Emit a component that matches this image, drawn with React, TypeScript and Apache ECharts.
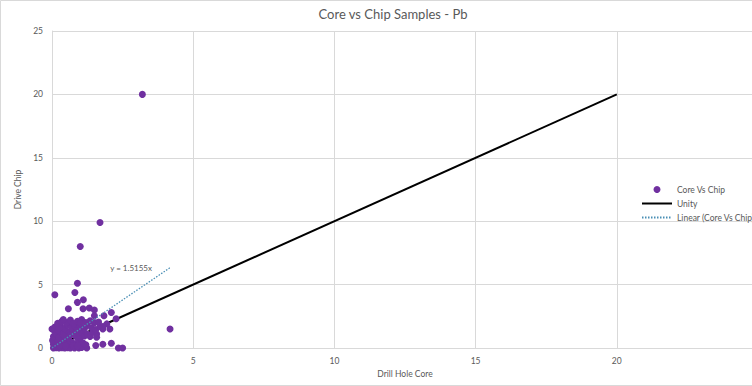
import React, { useEffect, useRef } from "react";
import * as echarts from "echarts";

const chartTitle = "Core vs Chip Samples - Pb";
const xAxisName = "Drill Hole Core";
const yAxisName = "Drive Chip";
const seriesNames = ["Core Vs Chip", "Unity", "Linear (Core Vs Chip)"];
const trendLabel = "y = 1.5155x";
const trendSlope = 1.5155;

// [Drill Hole Core, Drive Chip]
const coreVsChip: [number, number][] = [
  [0.05, 0], [0.15, 0.02], [0.25, 0], [0.35, 0.03], [0.45, 0], [0.55, 0.02], [0.65, 0], [0.8, 0.01],
  [0.95, 0], [1.05, 0.05], [1.23, 0], [1.55, 0.2], [1.8, 0.3], [2.1, 0.37], [2.35, 0], [2.5, 0],
  [0.05, 0.3], [0.12, 0.45], [0.2, 0.25], [0.3, 0.5], [0.4, 0.35], [0.5, 0.55], [0.6, 0.3], [0.7, 0.45],
  [0.85, 0.35], [0.95, 0.6], [1.1, 0.4], [1.2, 0.25], [0.02, 0.6], [0.18, 0.7], [0.28, 0.2], [0.38, 0.65],
  [0.48, 0.15], [0.58, 0.75], [0.75, 0.2], [0.9, 0.15], [1.0, 0.8],
  [0.05, 0.9], [0.15, 1.1], [0.25, 0.85], [0.35, 1.2], [0.45, 0.95], [0.55, 1.3], [0.65, 1.0], [0.75, 1.2],
  [0.85, 0.9], [0.95, 1.15], [1.05, 1.25], [1.15, 0.95], [1.25, 1.1], [1.35, 0.9], [1.45, 1.25],
  [1.58, 1.1], [1.58, 0.85], [0.1, 1.3], [0.4, 1.0],
  [0.0, 1.5], [0.1, 1.65], [0.2, 1.45], [0.3, 1.7], [0.45, 1.55], [0.55, 1.8], [0.7, 1.6], [0.8, 1.75],
  [0.9, 1.45], [1.0, 1.7], [1.15, 1.55], [1.25, 1.8], [1.4, 1.6], [1.55, 1.45], [1.7, 1.7], [1.8, 1.5],
  [2.05, 1.5], [1.94, 1.9], [1.8, 1.7], [0.25, 1.6],
  [0.2, 1.95], [0.35, 2.1], [0.5, 2.0], [0.65, 2.2], [0.75, 1.95], [0.9, 2.1], [1.05, 2.25], [1.2, 2.0],
  [1.35, 2.15], [1.5, 2.0], [0.4, 2.25], [1.0, 1.95], [2.27, 2.3], [1.65, 2.05],
  [1.5, 2.55], [1.84, 2.55], [2.1, 2.8], [1.32, 3.15], [1.5, 3.0], [1.1, 3.1], [0.58, 3.1], [0.9, 3.6],
  [1.11, 3.8], [0.81, 4.37], [0.1, 4.2], [0.9, 5.1], [1.0, 8.0], [1.7, 9.9], [3.2, 20], [4.18, 1.5],
];

const unityLine: [number, number][] = [[0, 0], [20, 20]];
const trendXRange = [0, 4.18];
const trendLabelAt: [number, number] = [2.8, 6.3];

const xTicks = { min: 0, max: 25, interval: 5 };
const yTicks = { min: 0, max: 25, interval: 5 };

export default function App() {
  const ref = useRef<HTMLDivElement>(null);
  useEffect(() => {
    document.body.style.margin = "0";
    if (!ref.current) return;
    const chart = echarts.init(ref.current, null, { renderer: "svg" });
    const trendLine = trendXRange.map((x) => [x, x * trendSlope]);
    const gray = "#595959";
    const gridColor = "#d9d9d9";
    chart.setOption({
      animation: false,
      backgroundColor: "#ffffff",
      textStyle: { fontFamily: "Lato, 'Open Sans', sans-serif" },
      title: {
        text: chartTitle,
        left: 388,
        textAlign: "center",
        top: 2,
        textStyle: { fontSize: 13, fontWeight: "normal", color: gray },
      },
      grid: { left: 52, top: 31, right: 18, bottom: 38, containLabel: false },
      xAxis: {
        type: "value",
        ...xTicks,
        name: xAxisName,
        nameLocation: "middle",
        nameGap: 18,
        nameTextStyle: { fontSize: 8.5, color: gray },
        axisLine: { show: true, lineStyle: { color: gridColor } },
        axisTick: { show: false },
        axisLabel: { fontSize: 8.5, color: gray, margin: 8, showMaxLabel: false },
        splitLine: { show: true, lineStyle: { color: gridColor, width: 1 } },
      },
      yAxis: {
        type: "value",
        ...yTicks,
        name: yAxisName,
        nameLocation: "middle",
        nameGap: 21,
        nameTextStyle: { fontSize: 8.5, color: gray },
        axisLine: { show: true, lineStyle: { color: gridColor } },
        axisTick: { show: false },
        axisLabel: { fontSize: 8.5, color: gray, margin: 9 },
        splitLine: { show: true, lineStyle: { color: gridColor, width: 1 } },
      },
      legend: {
        orient: "vertical",
        left: 636,
        top: 180,
        itemWidth: 30,
        itemHeight: 7,
        itemGap: 5,
        textStyle: { fontSize: 8.5, color: gray },
        data: [
          { name: seriesNames[0], icon: "circle" },
          { name: seriesNames[1], itemStyle: { opacity: 0 } },
          { name: seriesNames[2], itemStyle: { opacity: 0 } },
        ],
      },
      series: [
        {
          name: seriesNames[0],
          type: "scatter",
          data: coreVsChip,
          symbol: "circle",
          symbolSize: 7,
          itemStyle: { color: "#7030A0", opacity: 1 },
          z: 3,
        },
        {
          name: seriesNames[1],
          type: "line",
          data: unityLine,
          showSymbol: false,
          symbol: "none",
          lineStyle: { color: "#000000", width: 2 },
          itemStyle: { color: "#000000" },
          z: 2,
        },
        {
          name: seriesNames[2],
          type: "line",
          data: trendLine,
          showSymbol: false,
          symbol: "none",
          lineStyle: { color: "#4A8FB5", width: 1.3, type: [1.5, 1.5] },
          itemStyle: { color: "#4A8FB5" },
          z: 4,
          markPoint: {
            symbol: "circle",
            symbolSize: 0,
            silent: true,
            data: [{ coord: trendLabelAt, value: trendLabel }],
            label: {
              show: true,
              formatter: trendLabel,
              fontSize: 8,
              color: gray,
              position: "inside",
            },
          },
        },
      ],
      graphic: [
        {
          type: "rect",
          shape: { x: 0.5, y: 0.5, width: 800, height: 385 },
          style: { fill: "none", stroke: gridColor, lineWidth: 1 },
          silent: true,
        },
      ],
    });
    return () => chart.dispose();
  }, []);
  return (
    <div style={{ width: 752, height: 386, overflow: "hidden", position: "relative" }}>
      <div ref={ref} style={{ width: 776, height: 386 }} />
    </div>
  );
}
